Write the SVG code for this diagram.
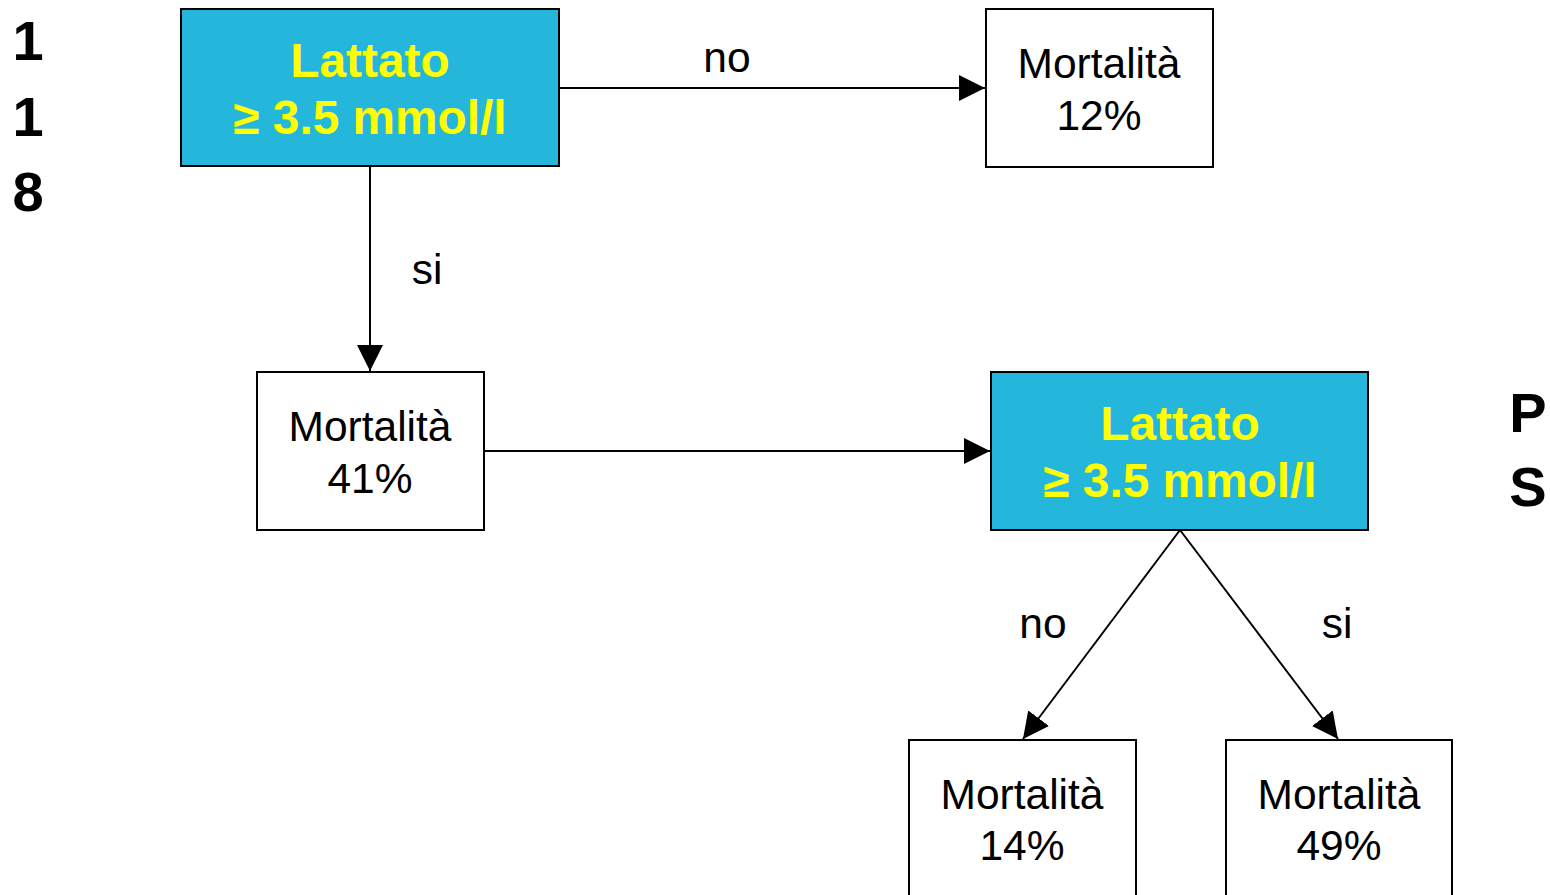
<svg xmlns="http://www.w3.org/2000/svg" width="1550" height="895" viewBox="0 0 1550 895">
  <style>
    .box { fill: #ffffff; stroke: #000000; stroke-width: 2; }
    .cond { fill: #25B7DB; stroke: #000000; stroke-width: 2; }
    .ctext { font-family: "Liberation Sans", Arial, sans-serif; font-weight: bold; font-size: 47.8px; fill: #FFFF00; text-anchor: middle; }
    .ntext { font-family: "Liberation Sans", Arial, sans-serif; font-size: 42.5px; fill: #000000; text-anchor: middle; }
    .side { font-family: "Liberation Sans", Arial, sans-serif; font-weight: bold; font-size: 56px; fill: #000000; text-anchor: middle; }
    .edge { stroke: #000000; stroke-width: 2; fill: none; marker-end: url(#arrow); }
  </style>
  <defs>
    <marker id="arrow" markerWidth="13" markerHeight="13" refX="13" refY="6.5" orient="auto" markerUnits="strokeWidth">
      <path d="M0,0 L13,6.5 L0,13 Z" fill="#000000"/>
    </marker>
  </defs>
  <rect width="1550" height="895" fill="#ffffff"/>

  <!-- side labels -->
  <g id="side-left">
    <text class="side" x="28" y="60">1</text>
    <text class="side" x="28" y="136">1</text>
    <text class="side" x="28" y="211">8</text>
  </g>
  <g id="side-right">
    <text class="side" x="1528" y="432">P</text>
    <text class="side" x="1528" y="506">S</text>
  </g>

  <!-- connectors -->
  <g id="connectors">
    <line class="edge" x1="559" y1="88" x2="985" y2="88"/>
    <line class="edge" x1="370" y1="166" x2="370" y2="371"/>
    <line class="edge" x1="484" y1="451" x2="990" y2="451"/>
    <line class="edge" x1="1180" y1="530" x2="1023" y2="739"/>
    <line class="edge" x1="1180" y1="530" x2="1338" y2="739"/>
    <text class="ntext" x="727" y="72">no</text>
    <text class="ntext" x="427" y="284">si</text>
    <text class="ntext" x="1043" y="638">no</text>
    <text class="ntext" x="1337" y="638">si</text>
  </g>

  <!-- nodes -->
  <g id="lattato-118">
    <rect class="cond" x="181" y="9" width="378" height="157"/>
    <text class="ctext" x="370" y="77">Lattato</text>
    <text class="ctext" x="370" y="134">≥ 3.5 mmol/l</text>
  </g>
  <g id="mortalita-12">
    <rect class="box" x="986" y="9" width="227" height="158"/>
    <text class="ntext" x="1099" y="78">Mortalità</text>
    <text class="ntext" x="1099" y="130">12%</text>
  </g>
  <g id="mortalita-41">
    <rect class="box" x="257" y="372" width="227" height="158"/>
    <text class="ntext" x="370" y="441">Mortalità</text>
    <text class="ntext" x="370" y="493">41%</text>
  </g>
  <g id="lattato-ps">
    <rect class="cond" x="991" y="372" width="377" height="158"/>
    <text class="ctext" x="1180" y="440">Lattato</text>
    <text class="ctext" x="1180" y="497">≥ 3.5 mmol/l</text>
  </g>
  <g id="mortalita-14">
    <rect class="box" x="909" y="740" width="227" height="170"/>
    <text class="ntext" x="1022" y="809">Mortalità</text>
    <text class="ntext" x="1022" y="860">14%</text>
  </g>
  <g id="mortalita-49">
    <rect class="box" x="1226" y="740" width="226" height="170"/>
    <text class="ntext" x="1339" y="809">Mortalità</text>
    <text class="ntext" x="1339" y="860">49%</text>
  </g>
</svg>
